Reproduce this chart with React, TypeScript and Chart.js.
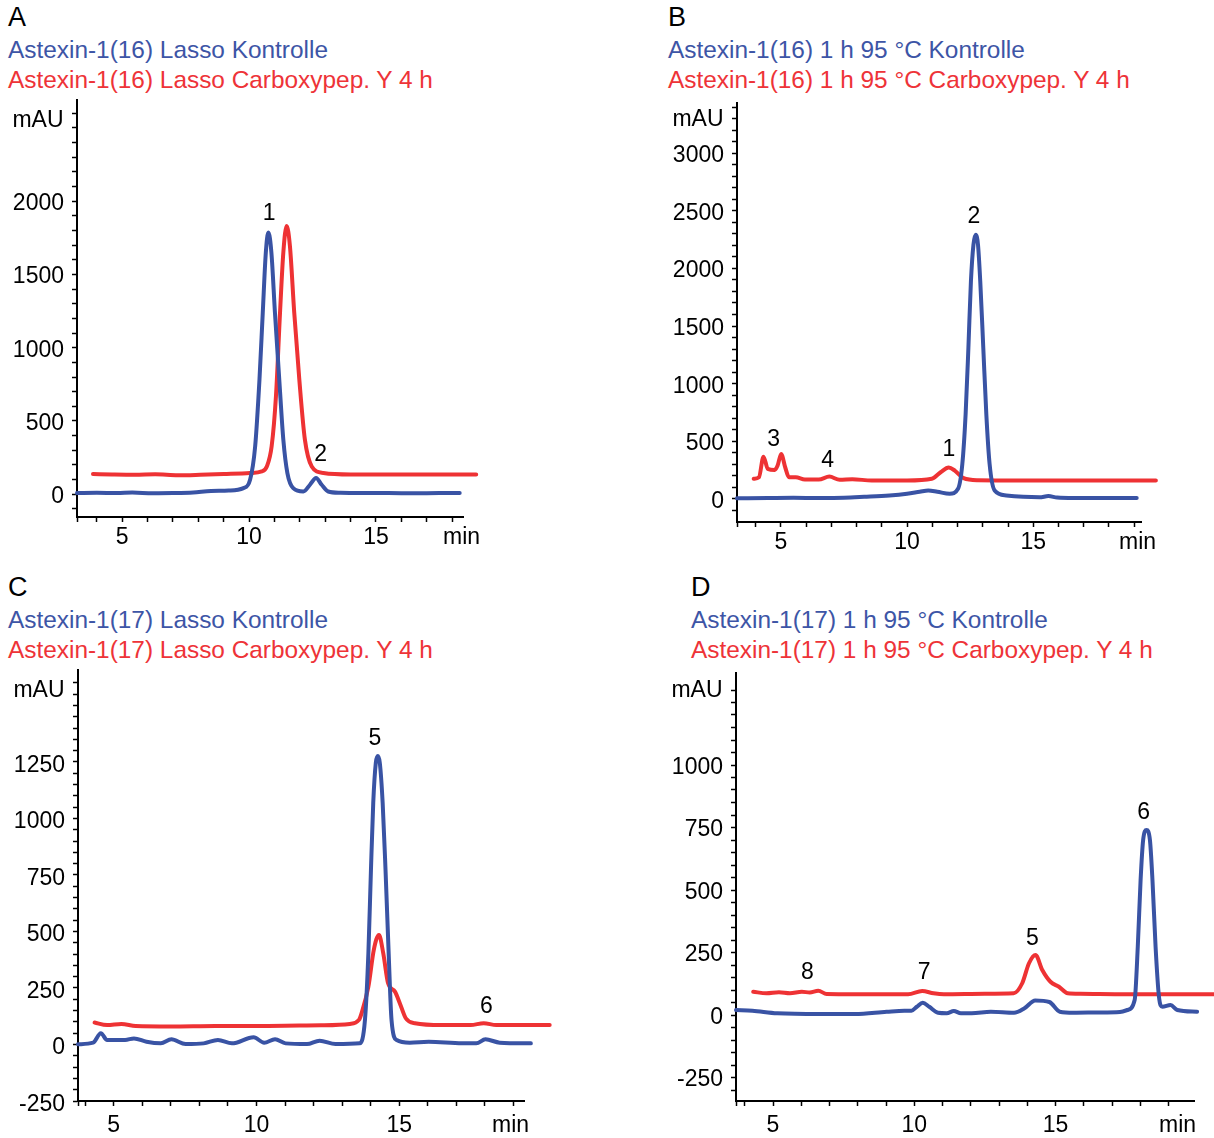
import React, { useEffect, useRef } from 'react';
import { Chart, registerables } from 'chart.js';
Chart.register(...registerables);

const FONT = '"Liberation Sans", Arial, Helvetica, sans-serif';
const BLUE = '#3953a4';
const RED = '#ee3234';
const BLUE_TEXT = '#3d55a6';
const RED_TEXT = '#ee3338';

// ---------- Panel A: Astexin-1(16) Lasso ----------
const tA_blue = [3.22, 4.0, 4.8, 5.4, 6.2, 7.0, 7.8, 8.5, 9.2, 9.78, 10.04, 10.24, 10.41, 10.54, 10.66, 10.76, 10.88, 11.02, 11.19, 11.35, 11.51, 11.74, 12.14, 12.4, 12.64, 12.86, 13.12, 13.6, 14.4, 15.5, 16.5, 17.5, 18.3];
const vA_blue = [8, 10, 8, 12, 7, 8, 12, 22, 25, 42, 99, 327, 783, 1239, 1649, 1786, 1649, 1239, 783, 373, 145, 42, 19, 65, 111, 65, 19, 10, 8, 8, 7, 8, 8];
const tA_red = [3.85, 4.6, 5.5, 6.3, 7.2, 8.07, 9.0, 10.04, 10.5, 10.7, 10.89, 11.06, 11.22, 11.35, 11.48, 11.61, 11.78, 11.98, 12.2, 12.47, 12.93, 14.0, 15.5, 17.0, 18.2, 18.95];
const vA_red = [138, 135, 133, 136, 130, 133, 138, 145, 156, 190, 327, 669, 1239, 1649, 1831, 1694, 1239, 783, 373, 190, 145, 135, 135, 135, 135, 135];
const peakA_text = ['1', '2'];
const peakA_t = [10.79, 12.82];
const peakA_v = [1927, 286];

// ---------- Panel B: Astexin-1(16) 1 h 95 °C ----------
const tB_blue = [3.26, 4.5, 5.5, 6.5, 7.5, 8.3, 9.3, 10.0, 10.5, 10.84, 11.2, 11.69, 12.02, 12.19, 12.32, 12.43, 12.53, 12.63, 12.72, 12.81, 12.9, 13.02, 13.14, 13.27, 13.47, 13.93, 14.6, 15.25, 15.6, 15.95, 16.6, 17.5, 18.4, 19.1];
const vB_blue = [5, 8, 10, 8, 10, 18, 30, 45, 62, 73, 62, 45, 88, 304, 736, 1312, 1888, 2206, 2292, 2206, 1888, 1312, 736, 304, 73, 30, 18, 14, 25, 12, 8, 8, 8, 8];
const tB_red = [3.92, 4.13, 4.31, 4.48, 4.75, 4.87, 5.01, 5.17, 5.32, 5.59, 5.95, 6.5, 6.92, 7.33, 7.83, 8.6, 10.0, 10.98, 11.33, 11.65, 11.89, 12.24, 12.8, 14.5, 16.5, 18.5, 19.86];
const vB_red = [175, 188, 367, 261, 252, 290, 391, 275, 188, 188, 169, 169, 194, 166, 171, 160, 160, 175, 232, 272, 246, 180, 162, 160, 160, 160, 160];
const peakB_text = ['3', '4', '1', '2'];
const peakB_t = [4.71, 6.85, 11.66, 12.65];
const peakB_v = [529, 347, 448, 2465];

// ---------- Panel C: Astexin-1(17) Lasso ----------
const tC_blue = [3.75, 4.28, 4.55, 4.77, 5.4, 5.71, 6.15, 6.65, 7.02, 7.52, 8.15, 8.65, 9.14, 9.9, 10.27, 10.65, 11.02, 11.77, 12.21, 12.77, 13.62, 13.8, 13.92, 14.01, 14.09, 14.18, 14.25, 14.32, 14.42, 14.52, 14.63, 14.73, 14.91, 15.37, 16.03, 17.2, 17.7, 18.02, 18.52, 19.61];
const vC_blue = [1, 8, 50, 20, 20, 27, 12, 5, 23, 2, 5, 20, 5, 32, 8, 23, 5, 2, 17, 2, 5, 109, 404, 773, 1069, 1246, 1276, 1246, 1069, 773, 404, 109, 20, 8, 12, 5, 5, 23, 8, 5];
const tC_red = [4.33, 4.77, 5.27, 5.77, 7.0, 8.57, 10.0, 11.5, 12.26, 13.27, 13.59, 13.68, 13.92, 14.11, 14.29, 14.44, 14.61, 14.85, 15.02, 15.23, 15.55, 16.5, 17.5, 17.96, 18.4, 19.4, 20.27];
const vC_red = [97, 86, 91, 82, 80, 82, 82, 84, 85, 91, 109, 138, 256, 419, 485, 404, 271, 234, 183, 116, 94, 86, 86, 94, 86, 86, 86];
const peakC_text = ['5', '6'];
const peakC_t = [14.15, 18.05];
const peakC_v = [1364, 175];

// ---------- Panel D: Astexin-1(17) 1 h 95 °C ----------
const tD_blue = [3.69, 4.27, 5.15, 6.65, 7.9, 9.02, 9.65, 9.9, 10.09, 10.3, 10.53, 10.84, 11.15, 11.4, 11.65, 12.03, 12.71, 13.53, 13.9, 14.28, 14.78, 15.15, 15.64, 16.5, 17.28, 17.54, 17.8, 17.91, 18.01, 18.1, 18.22, 18.34, 18.43, 18.54, 18.66, 18.78, 19.07, 19.31, 20.01];
const vD_blue = [20, 17, 7, 4, 4, 13, 17, 17, 33, 49, 33, 9, 7, 16, 7, 7, 13, 9, 27, 58, 52, 13, 9, 10, 12, 20, 60, 273, 540, 700, 740, 700, 540, 273, 73, 33, 40, 20, 13];
const tD_red = [4.3, 4.77, 5.21, 5.6, 6.02, 6.3, 6.6, 6.9, 7.9, 9.78, 10.28, 10.68, 11.05, 12.5, 13.52, 13.82, 14.06, 14.29, 14.53, 14.82, 15.12, 15.43, 15.88, 17.5, 19.0, 20.6];
const vD_red = [93, 87, 91, 87, 93, 90, 97, 84, 83, 83, 96, 87, 83, 85, 87, 127, 207, 240, 180, 133, 113, 87, 85, 83, 83, 83];
const peakD_text = ['8', '7', '5', '6'];
const peakD_t = [6.22, 10.35, 14.18, 18.12];
const peakD_v = [177, 177, 313, 817];

// ---------- Axis labels ----------
const xMajorTicks = [5, 10, 15];
const yMajorA = [0, 500, 1000, 1500, 2000];
const yMajorB = [0, 500, 1000, 1500, 2000, 2500, 3000];
const yMajorC = [-250, 0, 250, 500, 750, 1000, 1250];
const yMajorD = [-250, 0, 250, 500, 750, 1000];

type Panel = {
  letter: string;
  textLeft: number;
  rowTop: number;
  blueLabel: string;
  redLabel: string;
  canvas: { left: number; top: number; width: number; height: number };
  area: { left: number; top: number; right: number; bottom: number };
  xMin: number; xMax: number; yMin: number; yMax: number;
  xTickLast: number;
  yTickLo: number; yTickHi: number; yStep: number;
  yMajor: number[];
  blueT: number[]; blueV: number[]; redT: number[]; redV: number[];
  peakText: string[]; peakT: number[]; peakV: number[];
  mauBaseline: number;
  minLeft: number;
  xLabelPad: number;
  yLabelShift: number;
};

const panels: Panel[] = [
  {
    letter: 'A', textLeft: 8, rowTop: 0,
    blueLabel: 'Astexin-1(16) Lasso Kontrolle',
    redLabel: 'Astexin-1(16) Lasso Carboxypep. Y 4 h',
    canvas: { left: 0, top: 70, width: 500, height: 490 },
    area: { left: 77, top: 100, right: 463, bottom: 517 },
    xMin: 3.22, xMax: 18.43, yMin: -155, yMax: 2690, xTickLast: 18,
    yTickLo: -100, yTickHi: 2600, yStep: 100, yMajor: yMajorA,
    blueT: tA_blue, blueV: vA_blue, redT: tA_red, redV: vA_red,
    peakText: peakA_text, peakT: peakA_t, peakV: peakA_v,
    mauBaseline: 126.5, minLeft: 443, xLabelPad: 2, yLabelShift: 2.5,
  },
  {
    letter: 'B', textLeft: 668, rowTop: 0,
    blueLabel: 'Astexin-1(16) 1 h 95 °C Kontrolle',
    redLabel: 'Astexin-1(16) 1 h 95 °C Carboxypep. Y 4 h',
    canvas: { left: 660, top: 70, width: 554, height: 490 },
    area: { left: 737, top: 103, right: 1141, bottom: 522 },
    xMin: 3.26, xMax: 19.27, yMin: -200, yMax: 3435, xTickLast: 19,
    yTickLo: -100, yTickHi: 3400, yStep: 100, yMajor: yMajorB,
    blueT: tB_blue, blueV: vB_blue, redT: tB_red, redV: vB_red,
    peakText: peakB_text, peakT: peakB_t, peakV: peakB_v,
    mauBaseline: 126, minLeft: 1119, xLabelPad: 2, yLabelShift: 2.5,
  },
  {
    letter: 'C', textLeft: 8, rowTop: 570,
    blueLabel: 'Astexin-1(17) Lasso Kontrolle',
    redLabel: 'Astexin-1(17) Lasso Carboxypep. Y 4 h',
    canvas: { left: 0, top: 640, width: 600, height: 498 },
    area: { left: 78, top: 670, right: 524, bottom: 1101 },
    xMin: 3.75, xMax: 19.37, yMin: -250, yMax: 1657, xTickLast: 19,
    yTickLo: -250, yTickHi: 1600, yStep: 50, yMajor: yMajorC,
    blueT: tC_blue, blueV: vC_blue, redT: tC_red, redV: vC_red,
    peakText: peakC_text, peakT: peakC_t, peakV: peakC_v,
    mauBaseline: 697, minLeft: 492, xLabelPad: 6, yLabelShift: 3.5,
  },
  {
    letter: 'D', textLeft: 691, rowTop: 570,
    blueLabel: 'Astexin-1(17) 1 h 95 °C Kontrolle',
    redLabel: 'Astexin-1(17) 1 h 95 °C Carboxypep. Y 4 h',
    canvas: { left: 660, top: 640, width: 554, height: 498 },
    area: { left: 736, top: 673, right: 1194, bottom: 1101 },
    xMin: 3.69, xMax: 19.9, yMin: -344, yMax: 1368, xTickLast: 19,
    yTickLo: -300, yTickHi: 1300, yStep: 50, yMajor: yMajorD,
    blueT: tD_blue, blueV: vD_blue, redT: tD_red, redV: vD_red,
    peakText: peakD_text, peakT: peakD_t, peakV: peakD_v,
    mauBaseline: 697, minLeft: 1159, xLabelPad: 6, yLabelShift: 2.5,
  },
];

const TICK_FONT_SIZE = 23;
const TICK_LEN = 5;
const TEXT_DROP = 2; // canvas text drawn slightly lower to match glyph placement
const LINE_W = 4;

function makeChart(canvas: HTMLCanvasElement, p: Panel) {
  const cv = p.canvas;
  const ar = p.area;
  const xTicks: number[] = [p.xMin];
  for (let v = Math.ceil(p.xMin); v <= p.xTickLast; v++) xTicks.push(v);
  const yTicks: number[] = [];
  for (let v = p.yTickLo; v <= p.yTickHi; v += p.yStep) yTicks.push(v);

  const annot = {
    id: 'annot' + p.letter,
    afterDraw(chart: any) {
      const ctx = chart.ctx as CanvasRenderingContext2D;
      const xs = chart.scales.x;
      const ys = chart.scales.y;
      ctx.save();
      ctx.fillStyle = '#000';
      ctx.font = `${TICK_FONT_SIZE}px ${FONT}`;
      ctx.textAlign = 'center';
      ctx.textBaseline = 'middle';
      p.peakText.forEach((txt, i) => {
        ctx.fillText(txt, xs.getPixelForValue(p.peakT[i]), ys.getPixelForValue(p.peakV[i]) + TEXT_DROP);
      });
      ctx.textAlign = 'right';
      ctx.textBaseline = 'alphabetic';
      ctx.fillText('mAU', chart.chartArea.left - 13.5, p.mauBaseline - cv.top);
      ctx.textAlign = 'left';
      ctx.textBaseline = 'middle';
      const lh = TICK_FONT_SIZE * 1.2;
      ctx.fillText('min', p.minLeft - cv.left, chart.chartArea.bottom + TICK_LEN + p.xLabelPad + lh / 2);
      ctx.restore();
    },
  };

  const mk = (t: number[], v: number[]) => t.map((x, i) => ({ x, y: v[i] }));
  const lineStyle = (color: string) => ({
    borderColor: color,
    borderWidth: LINE_W,
    pointRadius: 0,
    cubicInterpolationMode: 'monotone',
    fill: false,
    clip: false,
    borderCapStyle: 'round',
    borderJoinStyle: 'round',
  });

  return new Chart(canvas, {
    type: 'line',
    data: {
      datasets: [
        { data: mk(p.blueT, p.blueV), ...lineStyle(BLUE) },
        { data: mk(p.redT, p.redV), ...lineStyle(RED) },
      ],
    },
    options: {
      animation: false,
      responsive: false,
      devicePixelRatio: 1,
      events: [],
      layout: {
        padding: { top: ar.top - cv.top, right: cv.left + cv.width - ar.right, left: 0, bottom: 0 },
      },
      plugins: { legend: { display: false }, tooltip: { enabled: false } },
      scales: {
        x: {
          type: 'linear',
          bounds: 'data',
          afterDataLimits: (s: any) => { s.min = p.xMin; s.max = p.xMax; },
          afterBuildTicks: (s: any) => { s.ticks = xTicks.map((value) => ({ value })); },
          afterFit: (s: any) => { s.height = cv.top + cv.height - ar.bottom; },
          grid: { display: true, drawOnChartArea: false, drawTicks: true, tickLength: TICK_LEN, tickColor: '#000', tickWidth: 1.5, color: '#000' },
          border: { display: true, color: '#000', width: 2 },
          ticks: {
            autoSkip: false, maxRotation: 0, minRotation: 0, padding: p.xLabelPad, color: '#000',
            font: { size: TICK_FONT_SIZE, family: FONT },
            callback: (val: any) => (xMajorTicks.includes(Number(val)) ? String(val) : ''),
          },
        },
        y: {
          type: 'linear',
          bounds: 'data',
          afterDataLimits: (s: any) => { s.min = p.yMin; s.max = p.yMax; },
          afterBuildTicks: (s: any) => { s.ticks = yTicks.map((value) => ({ value })); },
          afterFit: (s: any) => { s.width = ar.left - cv.left; },
          grid: { display: true, drawOnChartArea: false, drawTicks: true, tickLength: TICK_LEN, tickColor: '#000', tickWidth: 1.5, color: '#000' },
          border: { display: true, color: '#000', width: 2 },
          ticks: {
            autoSkip: false, padding: 8, color: '#000', labelOffset: p.yLabelShift,
            font: { size: TICK_FONT_SIZE, family: FONT },
            callback: (val: any) => (p.yMajor.includes(Number(val)) ? String(val) : ''),
          },
        },
      },
    },
    plugins: [annot],
  } as any);
}

function PanelChart({ p }: { p: Panel }) {
  const ref = useRef<HTMLCanvasElement | null>(null);
  useEffect(() => {
    if (!ref.current) return;
    const chart = makeChart(ref.current, p);
    return () => chart.destroy();
  }, [p]);
  return (
    <canvas
      ref={ref}
      width={p.canvas.width}
      height={p.canvas.height}
      style={{ position: 'absolute', left: p.canvas.left, top: p.canvas.top, width: p.canvas.width, height: p.canvas.height }}
    />
  );
}

function textStyle(left: number, baseline: number, size: number, color: string): React.CSSProperties {
  return {
    position: 'absolute',
    left,
    top: baseline - 0.8465 * size,
    fontFamily: FONT,
    fontSize: size,
    lineHeight: `${size}px`,
    color,
    whiteSpace: 'nowrap',
    margin: 0,
  };
}

export default function App() {
  return (
    <div style={{ position: 'absolute', left: 0, top: 0, width: 1214, height: 1138, background: '#fff', overflow: 'hidden' }}>
      {panels.map((p) => (
        <React.Fragment key={p.letter}>
          <div style={textStyle(p.textLeft, p.rowTop + 27.2, 27, '#000')}>{p.letter}</div>
          <div style={textStyle(p.textLeft, p.rowTop + 58.4, 24.4, BLUE_TEXT)}>{p.blueLabel}</div>
          <div style={textStyle(p.textLeft, p.rowTop + 88.4, 24.4, RED_TEXT)}>{p.redLabel}</div>
          <PanelChart p={p} />
        </React.Fragment>
      ))}
    </div>
  );
}
